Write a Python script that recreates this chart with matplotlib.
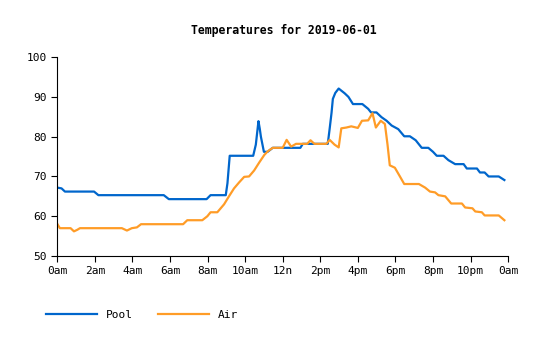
import matplotlib
matplotlib.use("Agg")
import matplotlib.pyplot as plt

# hours since midnight, temperatures (F)
pool_h = [0.0, 0.23, 0.41, 1.96, 2.19, 5.67, 5.94, 7.95, 8.16, 8.97, 9.06, 9.18,
          10.43, 10.57, 10.71, 10.78, 10.84, 11.0, 11.2, 11.47, 12.94, 13.07, 14.4,
          14.5, 14.6, 14.67, 14.8, 14.98, 15.3, 15.5, 15.74, 16.24, 16.55, 16.7,
          16.99, 17.26, 17.53, 17.8, 18.15, 18.47, 18.77, 19.08, 19.4, 19.75, 20.0,
          20.2, 20.56, 20.82, 21.18, 21.63, 21.8, 22.34, 22.5, 22.75, 22.96, 23.5, 23.8]
pool_t = [67.2, 67.0, 66.2, 66.2, 65.3, 65.3, 64.3, 64.3, 65.3, 65.3, 68.3, 75.2,
          75.2, 78.0, 83.9, 82.0, 80.0, 76.2, 76.2, 77.2, 77.2, 78.2, 78.2,
          82.0, 86.0, 89.5, 91.0, 92.1, 90.9, 90.0, 88.2, 88.2, 87.0, 86.1,
          86.1, 84.9, 84.0, 82.8, 81.9, 80.1, 80.1, 79.1, 77.2, 77.2, 76.2,
          75.2, 75.2, 74.1, 73.1, 73.1, 72.0, 72.0, 71.0, 71.0, 70.0, 70.0, 69.1]

air_h = [0.0, 0.14, 0.71, 0.89, 1.07, 1.21, 3.44, 3.71, 3.97, 4.24, 4.46, 6.7,
         6.92, 7.72, 7.99, 8.16, 8.52, 8.7, 8.88, 9.14, 9.41, 9.68, 9.95, 10.21,
         10.48, 10.75, 11.02, 11.2, 11.47, 12.0, 12.21, 12.45, 12.71, 13.3, 13.48,
         13.69, 14.32, 14.5, 14.76, 14.98, 15.12, 15.39, 15.65, 16.0, 16.22, 16.55,
         16.78, 16.96, 17.22, 17.44, 17.58, 17.7, 17.97, 18.24, 18.47, 19.25, 19.58,
         19.84, 20.11, 20.29, 20.65, 20.97, 21.54, 21.71, 22.1, 22.25, 22.6, 22.75,
         23.5, 23.8]
air_t = [58.1, 57.0, 57.0, 56.2, 56.6, 57.0, 57.0, 56.4, 57.0, 57.2, 58.0, 58.0,
         59.0, 59.0, 60.0, 61.0, 61.0, 62.0, 63.0, 65.0, 67.0, 68.5, 69.9, 70.0,
         71.5, 73.5, 75.4, 76.3, 77.2, 77.2, 79.2, 77.5, 78.2, 78.2, 79.1,
         78.2, 78.2, 79.2, 78.0, 77.3, 82.1, 82.3, 82.6, 82.2, 84.0, 84.1,
         85.9, 82.3, 84.0, 83.2, 78.0, 72.8, 72.2, 70.0, 68.1, 68.1, 67.2,
         66.2, 66.0, 65.3, 65.0, 63.2, 63.2, 62.2, 62.0, 61.2, 61.0, 60.2,
         60.2, 59.0]

xticks = list(range(0, 25, 2))
xlabels = ["0am", "2am", "4am", "6am", "8am", "10am", "12n",
           "2pm", "4pm", "6pm", "8pm", "10pm", "0am"]

plt.rcParams["font.family"] = "DejaVu Sans Mono"
fig = plt.figure(figsize=(5.4, 3.4), dpi=100)
ax = fig.add_axes([0.106, 0.247, 0.835, 0.585])
ax.plot(pool_h, pool_t, color="#0066cc", lw=1.6, label="Pool")
ax.plot(air_h, air_t, color="#ff9c27", lw=1.6, label="Air")
ax.set_xlim(0, 24)
ax.set_ylim(50, 100)
ax.set_xticks(xticks)
ax.set_xticklabels(xlabels)
ax.set_yticks(range(50, 101, 10))
ax.tick_params(labelsize=8, length=4, width=0.8, color="black")
for s in ("top", "right"):
    ax.spines[s].set_visible(False)
fig.text(0.525, 0.909, "Temperatures for 2019-06-01", ha="center", va="center",
         fontsize=8.3, fontweight="bold")
fig.legend(loc="center left", bbox_to_anchor=(0.066, 0.075), ncol=2, frameon=False,
           fontsize=8, handlelength=4.6, handletextpad=0.8, columnspacing=2.3)
fig.savefig("out.png", dpi=100)
